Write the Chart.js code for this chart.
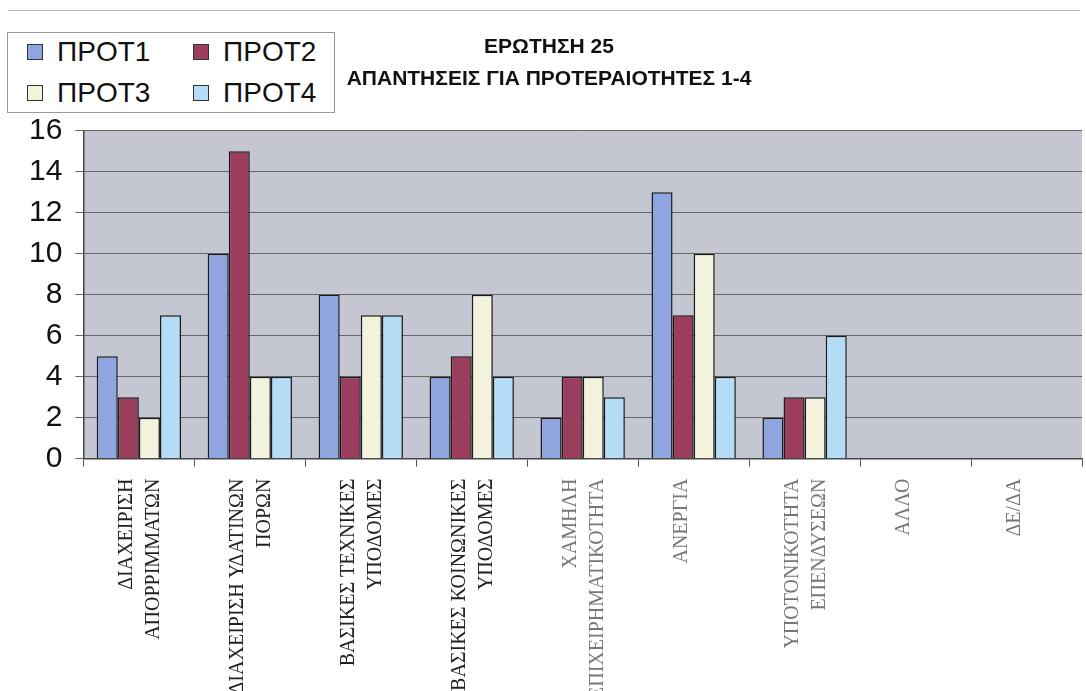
<!DOCTYPE html>
<html><head><meta charset="utf-8">
<script src="https://cdn.jsdelivr.net/npm/chart.js@4"></script>
<style>
html,body{margin:0;padding:0;background:#fff;}
#wrap{position:relative;width:1086px;height:691px;}
#frame{position:absolute;left:8px;top:10px;width:1072px;height:0;border-top:1px solid #bbb;}
#legend{position:absolute;left:7px;top:32px;width:328px;height:81px;background:#fff;border:1px solid #999;box-sizing:border-box;font-family:"Liberation Sans",Arial,sans-serif;font-size:28px;color:#111;}
.li{position:absolute;display:flex;align-items:center;height:30px;line-height:30px;}
.sw{width:16px;height:16px;border:1.5px solid #333;margin-right:14px;box-sizing:border-box;}
</style></head>
<body><div id="wrap"><div id="frame"></div><canvas id="c" width="1086" height="691"></canvas><div id="legend"></div></div>
<script>
const categories = [
  ["ΔΙΑΧΕΙΡΙΣΗ","ΑΠΟΡΡΙΜΜΑΤΩΝ"],
  ["ΔΙΑΧΕΙΡΙΣΗ ΥΔΑΤΙΝΩΝ","ΠΟΡΩΝ"],
  ["ΒΑΣΙΚΕΣ ΤΕΧΝΙΚΕΣ","ΥΠΟΔΟΜΕΣ"],
  ["ΒΑΣΙΚΕΣ ΚΟΙΝΩΝΙΚΕΣ","ΥΠΟΔΟΜΕΣ"],
  ["ΧΑΜΗΛΗ","ΕΠΙΧΕΙΡΗΜΑΤΙΚΟΤΗΤΑ"],
  ["ΑΝΕΡΓΙΑ"],
  ["ΥΠΟΤΟΝΙΚΟΤΗΤΑ","ΕΠΕΝΔΥΣΕΩΝ"],
  ["ΑΛΛΟ"],
  ["ΔΕ/ΔΑ"]
];
const seriesNames = ["ΠΡΟΤ1","ΠΡΟΤ2","ΠΡΟΤ3","ΠΡΟΤ4"];
const prot1 = [5,10,8,4,2,13,2,0,0];
const prot2 = [3,15,4,5,4,7,3,0,0];
const prot3 = [2,4,7,8,4,10,3,0,0];
const prot4 = [7,4,7,4,3,4,6,0,0];
const yTicks = [0,2,4,6,8,10,12,14,16];
const titleLines = ["ΕΡΩΤΗΣΗ 25","ΑΠΑΝΤΗΣΕΙΣ ΓΙΑ ΠΡΟΤΕΡΑΙΟΤΗΤΕΣ 1-4"];

const colors = ["#8fa5e0","#9b3d5d","#f3f2dc","#b4dcf6"];
const values = [prot1,prot2,prot3,prot4];

const bgPlugin = {
  id:'bg',
  beforeDraw(chart){
    const {ctx, chartArea:a} = chart;
    ctx.save();
    ctx.fillStyle = '#c4c7d2';
    ctx.fillRect(a.left, a.top, a.right-a.left, a.bottom-a.top);
    ctx.restore();
  }
};

new Chart(document.getElementById('c'), {
  type:'bar',
  data:{
    labels: categories,
    datasets: seriesNames.map((n,i)=>({
      label:n, data:values[i], backgroundColor:colors[i],
      borderColor:'#1a1a1a', borderWidth:1.5,
      categoryPercentage:0.76, barPercentage:1.0
    }))
  },
  options:{
    responsive:false, animation:false,
    layout:{padding:{top:31,left:16,right:4,bottom:-20}},
    plugins:{
      legend:{display:false},
      tooltip:{enabled:false},
      title:{display:true, text:titleLines, color:'#111',
        font:{family:'"Liberation Sans", Arial, sans-serif', size:21, weight:'bold', lineHeight:1.52},
        padding:{top:0,bottom:36}}
    },
    scales:{
      x:{
        grid:{display:true, drawOnChartArea:false, offset:true, tickLength:8, color:'#555'},
        border:{color:'#444', width:1.5},
        ticks:{minRotation:90, maxRotation:90, padding:12, autoSkip:false, labelOffset:-12,
          color:(c)=> c.index<4 ? '#222' : '#777',
          font:{family:'"Liberation Serif","Times New Roman",serif', size:20, lineHeight:1.35}}
      },
      y:{
        min:0, max:16,
        afterBuildTicks(s){ s.ticks = yTicks.map(v=>({value:v})); },
        grid:{color:'#666', lineWidth:1, tickLength:8, drawTicks:true},
        border:{color:'#444', width:1.5},
        ticks:{padding:13, color:'#111', autoSkip:false,
          font:{family:'"Liberation Sans", Arial, sans-serif', size:30}}
      }
    }
  },
  plugins:[bgPlugin]
});

const lg = document.getElementById('legend');
const pos = [[19,4],[185,4],[19,45],[185,45]];
seriesNames.forEach((n,i)=>{
  const d = document.createElement('div');
  d.className='li'; d.style.left=pos[i][0]+'px'; d.style.top=pos[i][1]+'px';
  const s = document.createElement('span'); s.className='sw'; s.style.background=colors[i];
  const t = document.createElement('span'); t.textContent=n;
  d.appendChild(s); d.appendChild(t); lg.appendChild(d);
});
</script></body></html>
